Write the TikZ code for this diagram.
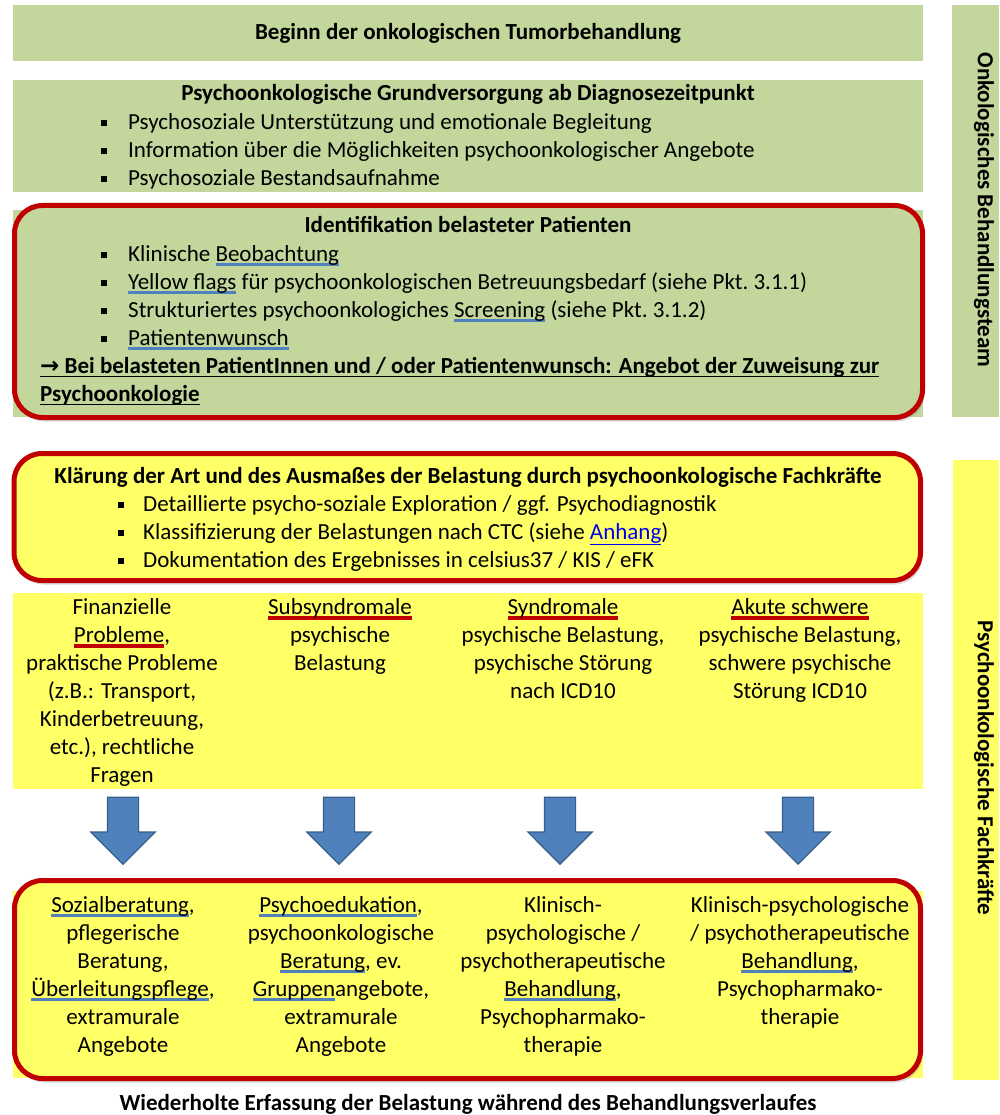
\documentclass[tikz,border=0pt]{standalone}
\usepackage{fontspec}
\setmainfont{Carlito}
\newfontfamily\symfont{DejaVu Sans}
\usepackage{tikz}
\usetikzlibrary{shapes.arrows, shadows, positioning}
\definecolor{olivegreen}{RGB}{195,214,155}
\definecolor{lightyellow}{RGB}{255,255,102}
\definecolor{darkred}{RGB}{192,0,0}
\definecolor{ulblue}{RGB}{79,129,189}
\definecolor{arrowborder}{RGB}{56,93,138}
\definecolor{linkblue}{RGB}{0,0,238}
\tikzstyle{txt}=[font=\fontsize{23}{28}\selectfont, inner sep=0pt]
\tikzstyle{btxt}=[txt, font=\fontsize{23}{28}\selectfont\bfseries]
\tikzstyle{redbox}=[draw=darkred, line width=5pt, rounded corners=28pt, drop shadow={shadow xshift=2pt, shadow yshift=-4pt, opacity=.3}]
\tikzstyle{downarrow}=[single arrow, draw=arrowborder, fill=ulblue, line width=1.2pt, rotate=-90, minimum height=67pt, minimum width=63pt, single arrow head extend=16.5pt, single arrow tip angle=90, single arrow head indent=0pt, inner xsep=0pt, inner ysep=15pt]
\newsavebox\ulsave
\newcommand{\ulb}[1]{\sbox\ulsave{#1}\rlap{\textcolor{ulblue}{\rule[-5pt]{\wd\ulsave}{3pt}}}\usebox\ulsave}
\newcommand{\ulr}[1]{\sbox\ulsave{#1}\rlap{\textcolor{darkred}{\rule[-6pt]{\wd\ulsave}{4pt}}}\usebox\ulsave}
\newcommand{\ulk}[1]{\sbox\ulsave{#1}\rlap{\rule[-4pt]{\wd\ulsave}{1.5pt}}\usebox\ulsave}
\newcommand{\sqb}[1][27pt]{\makebox[#1][l]{\rule[3pt]{6pt}{6pt}}}

\begin{document}
\begin{tikzpicture}[x=1pt, y=-1pt]
\useasboundingbox (0,0) rectangle (999,1115);
% onkologisches Team
\fill[olivegreen] (13,5) rectangle (923,61);
\node[btxt, anchor=base] (beginn) at (468,40) {Beginn der onkologischen Tumorbehandlung};
\fill[olivegreen] (13,80) rectangle (923,192);
\node[btxt, anchor=base] (grund) at (468,101) {Psychoonkologische Grundversorgung ab Diagnosezeitpunkt};
\node[txt, align=left, anchor=north west] (grundlist) at (101,109.4) {\strut\sqb Psychosoziale Unterstützung und emotionale Begleitung\\
\sqb Information über die Möglichkeiten psychoonkologischer Angebote\\
\sqb Psychosoziale Bestandsaufnahme};
\fill[olivegreen] (13,210) rectangle (923,417);
\draw[redbox, fill=olivegreen] (14.5,205.5) rectangle (922.5,417.5);
\node[btxt, anchor=base] (ident) at (468,233) {Identifikation belasteter Patienten};
\node[txt, align=left, anchor=north west] (identlist) at (101,241.4) {\strut\sqb Klinische \ulb{Beobachtung}\\
\sqb \ulb{Yellow flags} für psychoonkologischen Betreuungsbedarf (siehe Pkt.\ 3.1.1)\\
\sqb Strukturiertes psychoonkologiches \ulb{Screening} (siehe Pkt.\ 3.1.2)\\
\sqb \ulb{Patientenwunsch}};
\node[btxt, align=left, anchor=north west] (zuweisung) at (40,353.4) {\strut\ulk{{\symfont →} Bei belasteten PatientInnen und / oder Patientenwunsch: Angebot der Zuweisung zur}\\
\ulk{Psychoonkologie}};
\fill[olivegreen] (952,5) rectangle (999,417);
\node[btxt, rotate=-90] (onkteam) at (984,210) {Onkologisches Behandlungsteam};
% psychoonkologische Fachkraefte
\draw[redbox, fill=lightyellow] (14,453.5) rectangle (920.5,580.5);
\node[btxt, anchor=base] (klaerung) at (468,483) {Klärung der Art und des Ausmaßes der Belastung durch psychoonkologische Fachkräfte};
\node[txt, align=left, anchor=north west] (klaerlist) at (118,491.4) {\strut\sqb[25pt]Detaillierte psycho-soziale Exploration / ggf. Psychodiagnostik\\
\sqb[25pt]Klassifizierung der Belastungen nach CTC (siehe \textcolor{linkblue}{\underline{Anhang}})\\
\sqb[25pt]Dokumentation des Ergebnisses in celsius37 / KIS / eFK};
\fill[lightyellow] (13,593) rectangle (923,789);
\node[txt, align=center, anchor=north] (finanz) at (122,594.4) {\strut Finanzielle\\ \ulr{Probleme},\\ praktische Probleme\\ (z.B.: Transport,\\ Kinderbetreuung,\\ etc.), rechtliche\\ Fragen};
\node[txt, align=center, anchor=north] (subsyn) at (340,594.4) {\strut\ulr{Subsyndromale}\\ psychische\\ Belastung};
\node[txt, align=center, anchor=north] (syn) at (563,594.4) {\strut\ulr{Syndromale}\\ psychische Belastung,\\ psychische Störung\\ nach ICD10};
\node[txt, align=center, anchor=north] (akut) at (800,594.4) {\strut\ulr{Akute schwere}\\ psychische Belastung,\\ schwere psychische\\ Störung ICD10};
\node[downarrow, anchor=tip] (a1) at (123,865) {};
\node[downarrow, anchor=tip] (a2) at (339,865) {};
\node[downarrow, anchor=tip] (a3) at (560,865) {};
\node[downarrow, anchor=tip] (a4) at (798,865) {};
\fill[lightyellow] (13,891) rectangle (923,1078);
\draw[redbox, fill=lightyellow] (14.5,880.5) rectangle (920.5,1078.5);
\node[txt, align=center, anchor=north] (sozial) at (123,892.4) {\strut\ulb{Sozialberatung},\\ pflegerische\\ Beratung,\\ \ulb{Überleitungspflege},\\ extramurale\\ Angebote};
\node[txt, align=center, anchor=north] (edu) at (341,892.4) {\strut\ulb{Psychoedukation},\\ psychoonkologische\\ \ulb{Beratung}, ev.\\ \ulb{Gruppen}angebote,\\ extramurale\\ Angebote};
\node[txt, align=center, anchor=north] (klin) at (563,892.4) {\strut Klinisch-\\ psychologische /\\ psychotherapeutische\\ \ulb{Behandlung},\\ Psychopharmako-\\ therapie};
\node[txt, align=center, anchor=north] (klinb) at (800,892.4) {\strut Klinisch-psychologische\\ / psychotherapeutische\\ \ulb{Behandlung},\\ Psychopharmako-\\ therapie};
\fill[lightyellow] (953,460) rectangle (999,1080);
\node[btxt, rotate=-90] (pofach) at (984,768) {Psychoonkologische Fachkräfte};
\node[btxt, anchor=base] (wiederholt) at (468,1110) {Wiederholte Erfassung der Belastung während des Behandlungsverlaufes};
\end{tikzpicture}
\end{document}
